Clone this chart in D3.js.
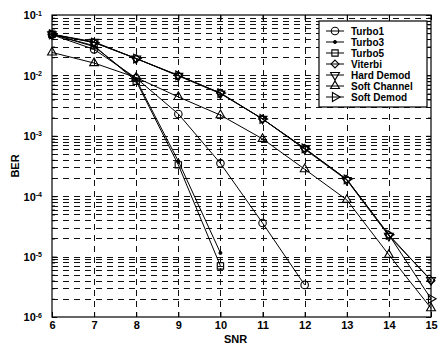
<!DOCTYPE html>
<html>
<head>
<meta charset="utf-8">
<script src="https://cdn.jsdelivr.net/npm/d3@7/dist/d3.min.js"></script>
<style>
  body { margin: 0; background: #fff; }
  text { font-family: "Liberation Sans", Arial, sans-serif; font-weight: bold; fill: #000; }
</style>
</head>
<body>
<svg id="chart" width="438" height="345"></svg>
<script>
// data
const snr = [6, 7, 8, 9, 10, 11, 12, 13, 14, 15];
const turbo1 = [0.047, 0.027, 0.009, 0.0023, 3.5e-4, 3.6e-5, 3.4e-6];
const turbo3 = [0.048, 0.030, 0.0085, 3.8e-4, 1.15e-5];
const turbo5 = [0.048, 0.031, 0.008, 3.3e-4, 7e-6];
const viterbi = [0.048, 0.035, 0.019, 0.010, 0.0051, 0.0019, 6.2e-4, 1.9e-4, 2.3e-5, 4.0e-6];
const hardDemod = [0.048, 0.036, 0.019, 0.0098, 0.0050, 0.0019, 6.0e-4, 1.85e-4, 2.2e-5, 4.1e-6];
const softChannel = [0.024, 0.016, 0.0092, 0.0044, 0.0022, 8.9e-4, 2.8e-4, 8.7e-5, 1.07e-5, 1.4e-6];
const softDemod = [0.048, 0.035, 0.019, 0.010, 0.0051, 0.0019, 6.2e-4, 1.9e-4, 2.3e-5, 2.0e-6];
const yTickExps = [-6, -5, -4, -3, -2, -1];

const series = [
  {name: 'Turbo1', values: turbo1, marker: 'circle'},
  {name: 'Turbo3', values: turbo3, marker: 'dot'},
  {name: 'Turbo5', values: turbo5, marker: 'square'},
  {name: 'Viterbi', values: viterbi, marker: 'diamond'},
  {name: 'Hard Demod', values: hardDemod, marker: 'down'},
  {name: 'Soft Channel', values: softChannel, marker: 'up'},
  {name: 'Soft Demod', values: softDemod, marker: 'right'}
];

const width = 438, height = 345;
const margin = {top: 15, right: 7, bottom: 28, left: 52};
const innerW = width - margin.left - margin.right;
const innerH = height - margin.top - margin.bottom;

const svg = d3.select('#chart');
const g = svg.append('g').attr('transform', `translate(${margin.left},${margin.top})`);

const x = d3.scaleLinear().domain([6, 15]).range([0, innerW]);
const y = d3.scaleLog().domain([1e-6, 1e-1]).range([innerH, 0]);

const allYTicks = y.ticks();
const isMajor = v => Math.abs(Math.log10(v) - Math.round(Math.log10(v))) < 1e-9;

// grid
const grid = g.append('g').attr('stroke', '#111').attr('stroke-width', 1)
  .attr('stroke-dasharray', '6,5').attr('fill', 'none');
grid.selectAll('.hg').data(allYTicks.filter(v => v > 1e-6 && v < 1e-1)).enter()
  .append('line')
  .attr('x1', 0).attr('x2', innerW)
  .attr('y1', d => Math.round(y(d)) + 0.5).attr('y2', d => Math.round(y(d)) + 0.5);
grid.selectAll('.vg').data(snr.slice(1, -1)).enter()
  .append('line')
  .attr('y1', 0).attr('y2', innerH)
  .attr('x1', d => Math.round(x(d)) + 0.5).attr('x2', d => Math.round(x(d)) + 0.5);

// axes with inward ticks
const xAxis = g.append('g').attr('transform', `translate(0,${innerH})`)
  .call(d3.axisBottom(x).tickValues(snr).tickFormat(d3.format('d')).tickSize(-5).tickPadding(4));
xAxis.select('.domain').remove();
xAxis.selectAll('text').style('font-size', '11px').style('font-family', '"Liberation Sans", Arial, sans-serif');
g.append('g').call(d3.axisTop(x).tickValues(snr).tickFormat('').tickSize(-5))
  .select('.domain').remove();

const leftMinor = g.append('g').call(d3.axisLeft(y).tickValues(allYTicks.filter(v => !isMajor(v))).tickFormat('').tickSize(-3));
leftMinor.select('.domain').remove();
const rightMinor = g.append('g').attr('transform', `translate(${innerW},0)`)
  .call(d3.axisRight(y).tickValues(allYTicks.filter(v => !isMajor(v))).tickFormat('').tickSize(-3));
rightMinor.select('.domain').remove();
const rightMajor = g.append('g').attr('transform', `translate(${innerW},0)`)
  .call(d3.axisRight(y).tickValues(yTickExps.map(e => Math.pow(10, e))).tickFormat('').tickSize(-5));
rightMajor.select('.domain').remove();

const yAxis = g.append('g')
  .call(d3.axisLeft(y).tickValues(yTickExps.map(e => Math.pow(10, e))).tickFormat('').tickSize(-5));
yAxis.select('.domain').remove();
yAxis.selectAll('.tick').each(function(d) {
  const t = d3.select(this).append('text')
    .attr('x', -10).attr('dy', '0.35em').attr('text-anchor', 'end')
    .style('font-size', '11px').attr('fill', '#000');
  t.append('tspan').text('10');
  t.append('tspan').attr('dy', '-0.55em').style('font-size', '7px').text(Math.round(Math.log10(d)));
});

g.append('rect').attr('width', innerW).attr('height', innerH)
  .attr('fill', 'none').attr('stroke', '#000').attr('stroke-width', 1.2);

// markers
function markerPath(type) {
  switch (type) {
    case 'circle': return d3.symbol(d3.symbolCircle, 44)();
    case 'dot': return d3.symbol(d3.symbolCircle, 6)();
    case 'square': return d3.symbol(d3.symbolSquare, 40)();
    case 'diamond': return d3.symbol(d3.symbolDiamond2, 40)();
    default: return d3.symbol(d3.symbolTriangle, 34)();
  }
}
const rot = {down: 180, right: 90, up: 0};
function drawMarker(sel, type) {
  sel.append('path')
    .attr('d', markerPath(type))
    .attr('transform', rot[type] ? `rotate(${rot[type]})` : null)
    .attr('fill', type === 'dot' ? '#000' : 'none')
    .attr('stroke', '#000').attr('stroke-width', 1.1);
}

const line = d3.line().x((d, i) => x(snr[i])).y(d => y(d));
series.forEach(s => {
  g.append('path').datum(s.values)
    .attr('d', line).attr('fill', 'none').attr('stroke', '#000').attr('stroke-width', 1);
  g.selectAll(null).data(s.values).enter().append('g')
    .attr('transform', (d, i) => `translate(${x(snr[i])},${y(d)})`)
    .each(function() { drawMarker(d3.select(this), s.marker); });
});

// legend
const lg = svg.append('g').attr('transform', 'translate(319,21)');
lg.append('rect').attr('width', 108).attr('height', 86)
  .attr('fill', '#fff').attr('stroke', '#000').attr('stroke-width', 1.2);
series.forEach((s, i) => {
  const row = lg.append('g').attr('transform', `translate(0,${10 + i * 11})`);
  row.append('line').attr('x1', 7).attr('x2', 25).attr('stroke', '#000');
  const m = row.append('g').attr('transform', 'translate(16,0)');
  drawMarker(m, s.marker);
  row.append('text').attr('x', 32).attr('dy', '0.35em').style('font-size', '10px').text(s.name);
});

// axis titles
svg.append('text').attr('x', margin.left + innerW / 2 - 6).attr('y', 343)
  .attr('text-anchor', 'middle').style('font-size', '11px').text('SNR');
svg.append('text').attr('transform', `translate(19,${margin.top + innerH / 2}) rotate(-90)`)
  .attr('text-anchor', 'middle').style('font-size', '11px').text('BER');
</script>
</body>
</html>
